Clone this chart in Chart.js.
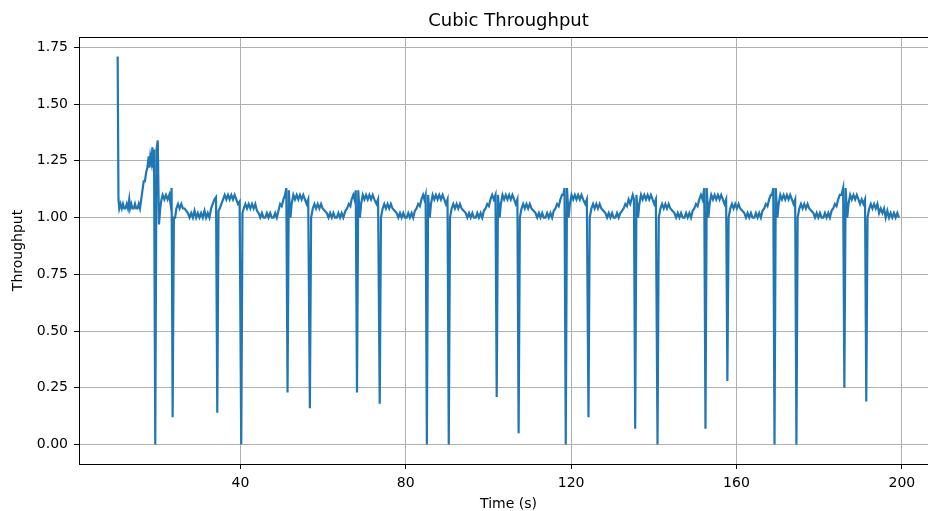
<!DOCTYPE html>
<html>
<head>
<meta charset="utf-8">
<script src="https://cdn.jsdelivr.net/npm/chart.js@4.4.1/dist/chart.umd.min.js"></script>
<style>
  html, body { margin: 0; padding: 0; background: #ffffff; overflow: hidden; width: 928px; height: 511px; }
  #wrap { position: absolute; left: 0; top: 0; width: 950px; height: 511px; }
</style>
</head>
<body>
<div id="wrap"><canvas id="c" width="950" height="511"></canvas></div>
<script>
const chartTitle = "Cubic Throughput";
const xLabel = "Time (s)";
const yLabel = "Throughput";
const xTicks = [40, 80, 120, 160, 200];
const yTicks = [0, 0.25, 0.5, 0.75, 1.0, 1.25, 1.5, 1.75];

const timeSec = [
  10.3,10.5,10.7,11.0,11.3,11.6,11.9,12.2,12.5,12.8,13.1,13.3,13.6,13.9,14.2,14.5,14.8,15.1,15.4,15.7,
  16.0,16.3,16.6,16.9,17.2,17.5,17.8,18.0,18.2,18.5,18.7,18.9,19.1,19.4,19.7,20.0,20.3,20.6,20.9,21.2,
  21.6,22.0,22.4,22.8,23.1,23.35,23.6,23.9,24.2,24.5,24.9,25.3,25.7,26.1,26.5,26.9,27.3,27.7,28.1,28.5,
  28.9,29.3,29.7,30.1,30.5,30.9,31.3,31.7,32.1,32.5,32.9,33.3,33.7,34.1,34.4,34.7,35.0,35.4,35.8,36.2,
  36.6,37.0,37.4,37.8,38.2,38.6,39.0,39.4,39.8,40.2,40.5,40.8,41.2,41.6,42.0,42.4,42.8,43.2,43.6,44.0,
  44.4,44.8,45.2,45.6,46.0,46.4,46.8,47.2,47.6,48.0,48.4,48.8,49.2,49.6,50.0,50.4,50.8,51.1,51.4,
  51.7,52.1,52.4,52.8,53.2,53.6,54.0,54.4,54.8,55.2,55.6,56.0,56.4,56.8,57.1,57.5,57.9,58.3,58.7,59.1,
  59.5,59.9,60.4,60.9,61.3,61.7,62.1,62.5,62.9,63.3,63.7,64.1,64.5,64.9,65.4,65.8,66.2,66.6,66.9,67.3,
  67.6,67.9,68.2,
  68.5,68.9,69.2,69.6,70.0,70.4,70.8,71.2,71.6,72.0,72.4,72.9,73.3,73.7,74.0,74.4,74.8,75.2,75.6,76.0,
  76.4,76.8,77.3,77.8,78.2,78.6,79.0,79.4,79.8,80.2,80.6,81.0,81.4,81.8,82.2,82.6,83.0,83.4,83.8,84.2,
  84.5,84.8,85.1,
  85.4,85.8,86.1,86.5,86.9,87.3,87.7,88.1,88.5,88.9,89.3,89.7,90.1,90.4,90.7,91.1,91.5,91.9,92.3,92.7,
  93.1,93.5,94.0,94.5,94.9,95.3,95.7,96.1,96.5,96.9,97.3,97.7,98.1,98.5,98.9,99.3,99.7,100.1,100.5,100.9,
  101.3,101.7,102.0,
  102.3,102.7,103.0,103.4,103.8,104.2,104.6,105.0,105.4,105.8,106.2,106.6,107.0,107.3,107.6,108.0,108.4,108.8,109.2,109.6,
  110.0,110.4,110.9,111.4,111.8,112.2,112.6,113.0,113.4,113.8,114.2,114.6,115.0,115.4,115.8,116.2,116.6,117.0,117.4,117.8,
  118.1,118.4,118.7,
  119.0,119.4,119.7,120.1,120.5,120.9,121.3,121.7,122.1,122.5,122.9,123.4,123.8,124.2,124.5,124.9,125.3,125.7,126.1,126.5,
  126.9,127.3,127.8,128.3,128.7,129.1,129.5,129.9,130.3,130.7,131.1,131.5,131.9,132.3,132.7,133.1,133.5,133.9,134.3,134.6,
  134.9,135.2,135.5,
  135.8,136.2,136.5,136.9,137.3,137.7,138.1,138.5,138.9,139.3,139.7,140.1,140.5,140.9,141.2,141.6,142.0,142.4,142.8,143.2,
  143.6,144.0,144.5,145.0,145.4,145.8,146.2,146.6,147.0,147.4,147.8,148.2,148.6,149.0,149.4,149.8,150.2,150.6,151.0,151.4,
  151.8,152.2,152.5,
  152.8,153.2,153.5,153.9,154.3,154.7,155.1,155.5,155.9,156.3,156.7,157.1,157.5,157.8,158.1,158.5,158.9,159.3,159.7,160.1,
  160.5,160.9,161.4,161.9,162.3,162.7,163.1,163.5,163.9,164.3,164.7,165.1,165.5,165.9,166.3,166.7,167.1,167.5,167.9,168.3,
  168.6,168.9,169.2,
  169.5,169.9,170.2,170.6,171.0,171.4,171.8,172.2,172.6,173.0,173.4,173.8,174.2,174.5,174.8,175.2,175.6,176.0,176.4,176.8,
  177.2,177.6,178.1,178.6,179.0,179.4,179.8,180.2,180.6,181.0,181.4,181.8,182.2,182.6,183.0,183.4,183.8,184.2,184.6,185.0,
  185.4,185.8,186.1,
  186.4,186.8,187.1,187.5,187.9,188.3,188.7,189.1,189.5,189.9,190.3,190.7,191.1,191.4,191.7,192.1,192.5,192.9,193.3,193.7,
  194.1,194.5,194.9,195.3,195.7,196.1,196.5,196.9,197.3,197.7,198.1,198.5,198.9,199.3
];

const throughput = [
  1.71,1.08,1.04,1.06,1.04,1.06,1.04,1.04,1.06,1.04,1.08,1.04,1.06,1.04,1.04,1.06,1.04,1.04,1.06,1.04,
  1.08,1.12,1.16,1.16,1.20,1.22,1.27,1.22,1.27,1.24,1.31,1.22,1.30,0.00,1.30,1.34,0.97,1.04,1.08,1.10,
  1.08,1.10,1.08,1.10,1.06,1.13,0.12,1.00,1.00,1.04,1.06,1.04,1.06,1.04,1.04,1.03,1.02,1.00,1.02,1.00,
  1.03,1.00,1.02,1.00,1.02,1.00,1.03,1.00,1.02,1.00,1.04,1.06,1.08,1.09,0.14,1.03,1.04,1.06,1.08,1.10,
  1.08,1.10,1.08,1.10,1.08,1.10,1.08,1.06,1.07,0.00,1.02,1.04,1.06,1.04,1.06,1.04,1.06,1.04,1.06,1.03,
  1.02,1.00,1.02,1.00,1.00,1.02,1.00,1.02,1.00,1.00,1.02,1.00,1.03,1.06,1.05,1.08,1.10,1.13,0.23,
  1.12,1.00,1.06,1.10,1.08,1.10,1.08,1.10,1.08,1.10,1.08,1.06,1.08,0.16,1.00,1.04,1.06,1.04,1.06,1.04,
  1.06,1.04,1.03,1.02,1.00,1.02,1.00,1.02,1.00,1.00,1.02,1.00,1.02,1.00,1.03,1.04,1.06,1.05,1.08,1.10,
  1.08,1.12,0.23,
  1.12,1.00,1.06,1.10,1.08,1.10,1.08,1.10,1.08,1.10,1.08,1.06,1.08,0.18,1.00,1.04,1.06,1.04,1.06,1.04,
  1.06,1.04,1.03,1.02,1.00,1.02,1.00,1.02,1.00,1.00,1.02,1.00,1.02,1.00,1.03,1.04,1.06,1.05,1.08,1.10,
  1.08,1.10,0.00,
  1.10,1.00,1.06,1.10,1.08,1.10,1.08,1.10,1.08,1.10,1.08,1.06,1.08,0.00,1.00,1.04,1.06,1.04,1.06,1.04,
  1.06,1.04,1.03,1.02,1.00,1.02,1.00,1.02,1.00,1.00,1.02,1.00,1.02,1.00,1.03,1.04,1.06,1.05,1.08,1.10,
  1.08,1.10,0.21,
  1.10,1.00,1.06,1.10,1.08,1.10,1.08,1.10,1.08,1.10,1.08,1.06,1.08,0.05,1.00,1.04,1.06,1.04,1.06,1.04,
  1.06,1.04,1.03,1.02,1.00,1.02,1.00,1.02,1.00,1.00,1.02,1.00,1.02,1.00,1.03,1.04,1.06,1.05,1.08,1.10,
  1.10,1.13,0.00,
  1.13,1.00,1.06,1.10,1.08,1.10,1.08,1.10,1.08,1.10,1.08,1.06,1.08,0.12,1.00,1.04,1.06,1.04,1.06,1.04,
  1.06,1.04,1.03,1.02,1.00,1.02,1.00,1.02,1.00,1.00,1.02,1.00,1.02,1.03,1.04,1.06,1.05,1.08,1.06,1.08,
  1.10,1.08,0.07,
  1.10,1.00,1.06,1.10,1.08,1.10,1.08,1.10,1.08,1.10,1.08,1.06,1.08,0.00,1.00,1.04,1.06,1.04,1.06,1.04,
  1.06,1.04,1.03,1.02,1.00,1.02,1.00,1.02,1.00,1.00,1.02,1.00,1.02,1.00,1.03,1.04,1.06,1.05,1.08,1.10,
  1.08,1.13,0.07,
  1.13,1.00,1.06,1.10,1.08,1.10,1.08,1.10,1.08,1.10,1.08,1.06,1.08,0.28,1.00,1.04,1.06,1.04,1.06,1.04,
  1.06,1.04,1.03,1.02,1.00,1.02,1.00,1.02,1.00,1.00,1.02,1.00,1.02,1.00,1.03,1.04,1.06,1.05,1.08,1.10,
  1.10,1.13,0.00,
  1.13,1.00,1.06,1.10,1.08,1.10,1.08,1.10,1.08,1.10,1.08,1.06,1.08,0.00,1.00,1.04,1.06,1.04,1.06,1.04,
  1.06,1.04,1.03,1.02,1.00,1.02,1.00,1.02,1.00,1.00,1.02,1.00,1.02,1.00,1.03,1.04,1.06,1.05,1.08,1.10,
  1.10,1.13,0.25,
  1.13,1.00,1.06,1.10,1.08,1.10,1.08,1.10,1.08,1.06,1.08,1.06,1.08,0.19,1.00,1.04,1.06,1.04,1.06,1.04,
  1.06,1.02,1.04,1.02,1.04,1.00,1.03,1.00,1.02,1.00,1.02,1.00,1.02,1.00
];

const points = timeSec.map((t, i) => ({ x: t, y: throughput[i] }));

const FONT = "'DejaVu Sans', sans-serif";

const frameAndTitle = {
  id: 'frameAndTitle',
  afterDraw(chart) {
    const a = chart.chartArea, ctx = chart.ctx;
    ctx.save();
    ctx.strokeStyle = '#000';
    ctx.lineWidth = 1;
    ctx.strokeRect(Math.round(a.left) + 0.5, Math.round(a.top) + 0.5,
                   Math.round(a.right - a.left), Math.round(a.bottom - a.top));
    ctx.fillStyle = '#000';
    ctx.font = "18px " + FONT;
    ctx.textAlign = 'center';
    ctx.textBaseline = 'middle';
    ctx.fillText(chartTitle, (a.left + a.right) / 2, 21);
    ctx.restore();
  }
};

new Chart(document.getElementById('c'), {
  type: 'line',
  data: {
    datasets: [{
      data: points,
      borderColor: '#1f77b4',
      borderWidth: 2.2,
      pointRadius: 0,
      tension: 0,
      fill: false
    }]
  },
  options: {
    responsive: false,
    animation: false,
    layout: { padding: { left: 0, right: 12, top: 37, bottom: 0 } },
    plugins: {
      legend: { display: false },
      tooltip: { enabled: false },
      title: { display: false }
    },
    scales: {
      x: {
        type: 'linear',
        min: 0.95,
        max: 208.75,
        afterBuildTicks: s => { s.ticks = xTicks.map(v => ({ value: v })); },
        afterFit: s => { s.height = 47; },
        ticks: {
          color: '#000',
          font: { family: FONT, size: 14 },
          padding: 6,
          maxRotation: 0,
          callback: v => String(v)
        },
        grid: { color: '#b0b0b0', lineWidth: 1, tickLength: 5, tickColor: '#000', drawTicks: true },
        border: { display: true, color: '#000', width: 1 },
        title: {
          display: true, text: xLabel, color: '#000',
          font: { family: FONT, size: 14 },
          padding: { top: 0, bottom: -2 }
        }
      },
      y: {
        type: 'linear',
        min: -0.0855,
        max: 1.7955,
        afterBuildTicks: s => { s.ticks = yTicks.map(v => ({ value: v })); },
        afterFit: s => { s.width = 79; },
        ticks: {
          color: '#000',
          font: { family: FONT, size: 14 },
          padding: 6,
          callback: v => Number(v).toFixed(2)
        },
        grid: { color: '#b0b0b0', lineWidth: 1, tickLength: 5, tickColor: '#000', drawTicks: true },
        border: { display: true, color: '#000', width: 1 },
        title: {
          display: true, text: yLabel, color: '#000',
          font: { family: FONT, size: 14 },
          padding: { top: 10, bottom: 0 }
        }
      }
    }
  },
  plugins: [frameAndTitle]
});
</script>
</body>
</html>
